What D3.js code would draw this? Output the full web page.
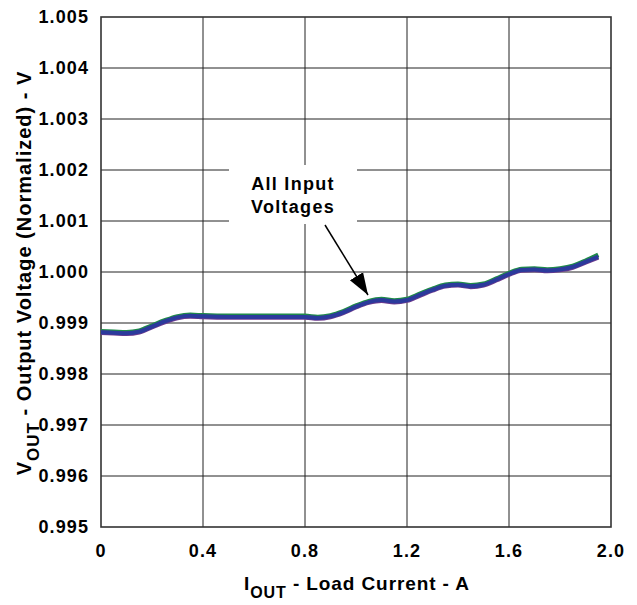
<!DOCTYPE html>
<html><head><meta charset="utf-8">
<script src="https://cdn.jsdelivr.net/npm/d3@7"></script>
<style>
html,body{margin:0;padding:0;background:#fff;}
text{font-family:Arial,"Liberation Sans",Helvetica,sans-serif;font-weight:bold;fill:#000;}
</style></head>
<body>
<svg id="c" width="637" height="605"></svg>
<script>
// ---- data ----
const loadCurrent = [0,0.05,0.1,0.15,0.2,0.25,0.3,0.35,0.4,0.5,0.6,0.7,0.8,0.85,0.9,0.95,1.0,1.05,1.1,1.15,1.2,1.25,1.3,1.35,1.4,1.45,1.5,1.55,1.6,1.65,1.7,1.75,1.8,1.85,1.9,1.95];
const voutBlue  = [0.99882,0.99881,0.99880,0.99883,0.99893,0.99903,0.99911,0.99914,0.99913,0.99912,0.99912,0.99912,0.99912,0.99910,0.99913,0.99921,0.99932,0.99941,0.99945,0.99942,0.99945,0.99955,0.99965,0.99973,0.99975,0.99972,0.99975,0.99985,0.99996,1.00004,1.00005,1.00003,1.00005,1.00010,1.00020,1.00030];
const voutGreen = [0.99884,0.99883,0.99882,0.99885,0.99895,0.99905,0.99913,0.99916,0.99915,0.99914,0.99914,0.99914,0.99914,0.99912,0.99915,0.99923,0.99934,0.99943,0.99947,0.99944,0.99947,0.99957,0.99967,0.99975,0.99977,0.99974,0.99977,0.99987,0.99998,1.00006,1.00007,1.00005,1.00007,1.00012,1.00022,1.00034];
const xTicks = [0,0.4,0.8,1.2,1.6,2.0];
const xTickLabels = ["0","0.4","0.8","1.2","1.6","2.0"];
const yTicks = [0.995,0.996,0.997,0.998,0.999,1.000,1.001,1.002,1.003,1.004,1.005];
const yTickLabels = ["0.995","0.996","0.997","0.998","0.999","1.000","1.001","1.002","1.003","1.004","1.005"];
const annotationLines = ["All Input","Voltages"];

// ---- layout ----
const L=101, R=611, T=17, B=527;
const svg=d3.select("#c");
const x=d3.scaleLinear().domain([0,2.0]).range([L,R]);
const y=d3.scaleLinear().domain([0.995,1.005]).range([B,T]);

// grid
const g=svg.append("g");
g.selectAll("line.v").data(xTicks.slice(1,-1)).join("line")
  .attr("x1",d=>x(d)).attr("x2",d=>x(d)).attr("y1",T).attr("y2",B)
  .attr("stroke","#222").attr("stroke-width",1);
g.selectAll("line.h").data(yTicks.slice(1,-1)).join("line")
  .attr("x1",L).attr("x2",R).attr("y1",d=>y(d)).attr("y2",d=>y(d))
  .attr("stroke","#222").attr("stroke-width",1);

// annotation box (white, covers grid)
const bx=229, by=165, bw=128, bh=59;
svg.append("rect").attr("x",bx).attr("y",by).attr("width",bw).attr("height",bh).attr("fill","#fff");
svg.append("g").selectAll("text").data(annotationLines).join("text")
  .attr("x",293).attr("y",(d,i)=>190+i*23).attr("text-anchor","middle")
  .style("font-size","18px").style("letter-spacing","1.3px").text(d=>d);

// frame
svg.append("rect").attr("x",L).attr("y",T).attr("width",R-L).attr("height",B-T)
  .attr("fill","none").attr("stroke","#333").attr("stroke-width",1.6);

// curves
const line=d3.line().x((d,i)=>x(loadCurrent[i])).y(d=>y(d)).curve(d3.curveMonotoneX);
svg.append("path").attr("d",line(voutGreen)).attr("fill","none").attr("stroke","#1e8a4a").attr("stroke-width",4.5);
svg.append("path").attr("d",line(voutBlue)).attr("fill","none").attr("stroke","#6b3a8f").attr("stroke-width",4.5).attr("transform","translate(0,0.6)");
svg.append("path").attr("d",line(voutBlue)).attr("fill","none").attr("stroke","#2b3a9c").attr("stroke-width",4);

// arrow
svg.append("defs").append("marker").attr("id","ah").attr("viewBox","0 0 10 10").attr("refX",10).attr("refY",5)
  .attr("markerWidth",22).attr("markerHeight",22).attr("markerUnits","userSpaceOnUse").attr("orient","auto")
  .append("path").attr("d","M0,1.5 L10,5 L0,8.5 Z").attr("fill","#000");
svg.append("line").attr("x1",325).attr("y1",225).attr("x2",368).attr("y2",295)
  .attr("stroke","#000").attr("stroke-width",1.5).attr("marker-end","url(#ah)");

// y tick labels
svg.append("g").selectAll("text").data(yTicks).join("text")
  .attr("x",89).attr("y",d=>y(d)).attr("dy","0.35em").attr("text-anchor","end")
  .style("font-size","18px").style("letter-spacing","1.1px").text((d,i)=>yTickLabels[i]);
// x tick labels
svg.append("g").selectAll("text").data(xTicks).join("text")
  .attr("x",d=>x(d)).attr("y",557).attr("text-anchor","middle")
  .style("font-size","18px").style("letter-spacing","1.1px").text((d,i)=>xTickLabels[i]);

// x title
const xt=svg.append("text").attr("x",357).attr("y",590).attr("text-anchor","middle")
  .style("font-size","19px").style("letter-spacing","0.9px");
xt.append("tspan").text("I");
xt.append("tspan").attr("dy",8).style("font-size","16px").text("OUT");
xt.append("tspan").attr("dy",-8).text(" - Load Current - A");

// y title
const yt=svg.append("text").attr("transform","translate(31,273) rotate(-90)").attr("text-anchor","middle")
  .style("font-size","20px").style("letter-spacing","1px");
yt.append("tspan").text("V");
yt.append("tspan").attr("dy",8).style("font-size","17px").text("OUT");
yt.append("tspan").attr("dy",-8).text(" - Output Voltage (Normalized) - V");
</script>
</body></html>
